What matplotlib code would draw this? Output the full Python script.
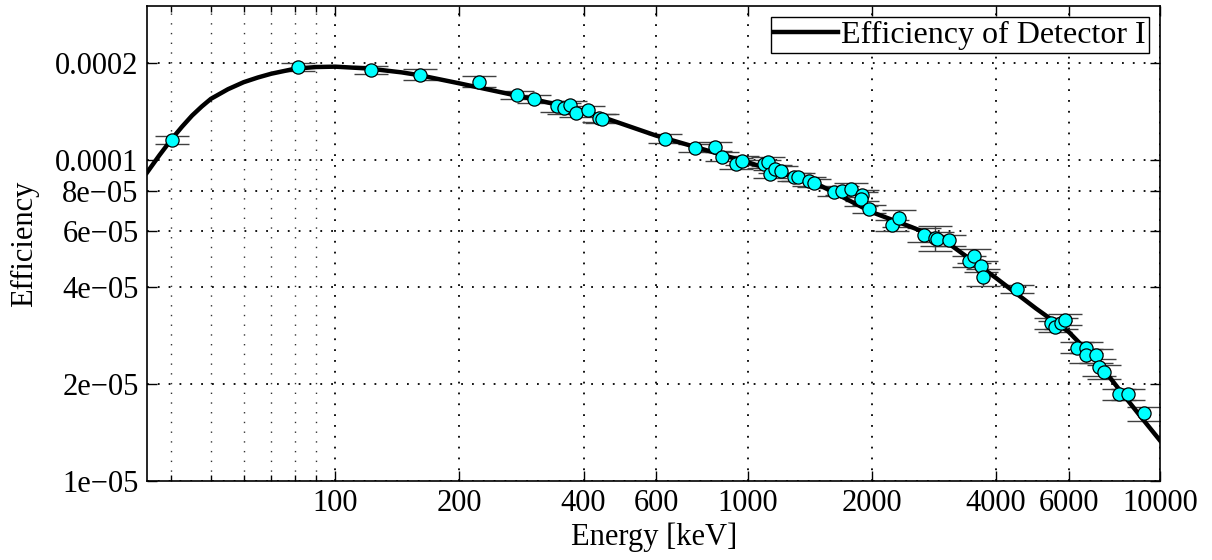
import numpy as np
import matplotlib
matplotlib.use("Agg")
from matplotlib import pyplot as plt
from matplotlib.ticker import FixedLocator, NullFormatter

energy = [40.3, 81.3, 122, 160.7, 223, 276, 303, 345, 358, 370, 384, 411, 437, 443,
          631, 746, 834, 867, 938, 968, 1097, 1117, 1134, 1162, 1204, 1292, 1321,
          1410, 1445, 1615, 1691, 1782, 1898, 1885, 1963, 2238, 2322, 2679, 2838,
          2877, 3070, 3430, 3540, 3680, 3720, 4508, 5435, 5570, 5750, 5893, 6285,
          6617, 6617, 6980, 7092, 7300, 7927, 8340, 9140]
eff = [1.153e-4, 1.945e-4, 1.904e-4, 1.836e-4, 1.746e-4, 1.592e-4, 1.544e-4, 1.464e-4,
       1.443e-4, 1.479e-4, 1.396e-4, 1.429e-4, 1.349e-4, 1.341e-4,
       1.162e-4, 1.089e-4, 1.097e-4, 1.022e-4, 0.972e-4, 0.993e-4, 0.970e-4, 0.986e-4,
       0.903e-4, 0.935e-4, 0.924e-4, 0.881e-4, 0.881e-4,
       0.855e-4, 0.847e-4, 0.792e-4, 0.801e-4, 0.807e-4, 0.773e-4, 0.7545e-4, 0.703e-4,
       0.624e-4, 0.657e-4, 0.5835e-4, 0.569e-4,
       0.5665e-4, 0.561e-4, 0.482e-4, 0.501e-4, 0.466e-4, 0.431e-4, 0.395e-4,
       0.310e-4, 0.302e-4, 0.310e-4, 0.318e-4, 0.260e-4,
       0.260e-4, 0.246e-4, 0.246e-4, 0.2264e-4, 0.2187e-4, 0.1862e-4, 0.1862e-4, 0.1623e-4]
# relative uncertainties
rel_err = [0.03, 0.03, 0.03, 0.04, 0.04, 0.03, 0.03, 0.04, 0.04, 0.03, 0.03, 0.03, 0.03, 0.03,
           0.03, 0.03, 0.03, 0.03, 0.04, 0.03, 0.03, 0.03, 0.03, 0.03, 0.03, 0.03, 0.03,
           0.03, 0.03, 0.03, 0.03, 0.05, 0.04, 0.05, 0.03,
           0.04, 0.06, 0.05, 0.09, 0.05, 0.04, 0.04, 0.05, 0.04, 0.06, 0.03,
           0.04, 0.04, 0.04, 0.04, 0.04, 0.04, 0.05, 0.05, 0.06, 0.05, 0.04, 0.04, 0.05]

# fitted efficiency curve
curve_e = [35, 37.5, 40, 42.5, 45, 47.5, 50, 55, 60, 65, 70, 80, 90, 100, 120, 145, 160,
           200, 300, 400, 600, 1000, 1500, 2000, 2500, 3000, 4000, 5000, 6000, 7000,
           8000, 9000, 10000]
curve_eff = [0.911e-4, 1.031e-4, 1.15e-4, 1.263e-4, 1.37e-4, 1.462e-4, 1.545e-4,
             1.655e-4, 1.74e-4, 1.80e-4, 1.849e-4, 1.917e-4, 1.94e-4, 1.945e-4,
             1.92e-4, 1.867e-4, 1.83e-4, 1.726e-4, 1.544e-4, 1.42e-4, 1.187e-4,
             0.981e-4, 0.830e-4, 0.686e-4, 0.616e-4, 0.560e-4, 0.428e-4, 0.344e-4,
             0.291e-4, 0.2376e-4, 1.908e-5, 1.577e-5, 1.334e-5]

xticks = [100, 200, 400, 600, 1000, 2000, 4000, 6000, 10000]
xminor = [40, 50, 60, 70, 80, 90]
yticks = [1e-5, 2e-5, 4e-5, 6e-5, 8e-5, 1e-4, 2e-4]
ylabels = ["1e\u221205", "2e\u221205", "4e\u221205", "6e\u221205", "8e\u221205", "0.0001", "0.0002"]

plt.rcParams['font.family'] = ['Liberation Serif', 'DejaVu Serif']
plt.rcParams['font.size'] = 22

fig = plt.figure(figsize=(12.12, 5.6), dpi=100)
ax = fig.add_axes([0.1213, 0.141, 0.836, 0.848])

ax.set_xscale('log')
ax.set_yscale('log')
ax.set_xlim(35, 10000)
ax.set_ylim(1e-5, 3e-4)

ax.plot(curve_e, curve_eff, 'k-', lw=3.2, label='Efficiency of Detector I', zorder=3)

e = np.array(energy)
y = np.array(eff)
yerr = y * np.array(rel_err)
ax.errorbar(e, y, yerr=yerr, fmt='none', ecolor='#404040', elinewidth=1.0,
            capsize=12, capthick=1.0, zorder=2)
ax.plot(e, y, 'o', ms=9.5, mfc='cyan', mec='black', mew=0.9, zorder=4)

ax.xaxis.set_major_locator(FixedLocator(xticks))
ax.xaxis.set_minor_locator(FixedLocator(xminor))
ax.xaxis.set_minor_formatter(NullFormatter())
ax.set_xticklabels([str(t) for t in xticks])
ax.yaxis.set_major_locator(FixedLocator(yticks))
ax.yaxis.set_minor_locator(FixedLocator([]))
ax.set_yticklabels(ylabels)

ax.grid(True, which='major', color='black', linestyle=(0, (1, 5)), lw=1.3)
ax.grid(True, which='minor', axis='x', color='#333333', linestyle=(0, (1, 6)), lw=1.0)

ax.tick_params(which='both', direction='in', top=True, right=True, width=1)
ax.tick_params(which='major', length=7, pad=6)
ax.tick_params(which='minor', length=4)
for s in ax.spines.values():
    s.set_linewidth(1.2)

ax.set_xlabel('Energy [keV]', labelpad=3)
ax.set_ylabel('Efficiency', labelpad=12)

leg = ax.legend(loc='upper right', fancybox=False, edgecolor='black', framealpha=1,
                fontsize=23, handlelength=2.0, borderaxespad=0.35, borderpad=0.1,
                handletextpad=0.1)
leg.get_frame().set_linewidth(1.0)

fig.savefig('out.png', dpi=100)
